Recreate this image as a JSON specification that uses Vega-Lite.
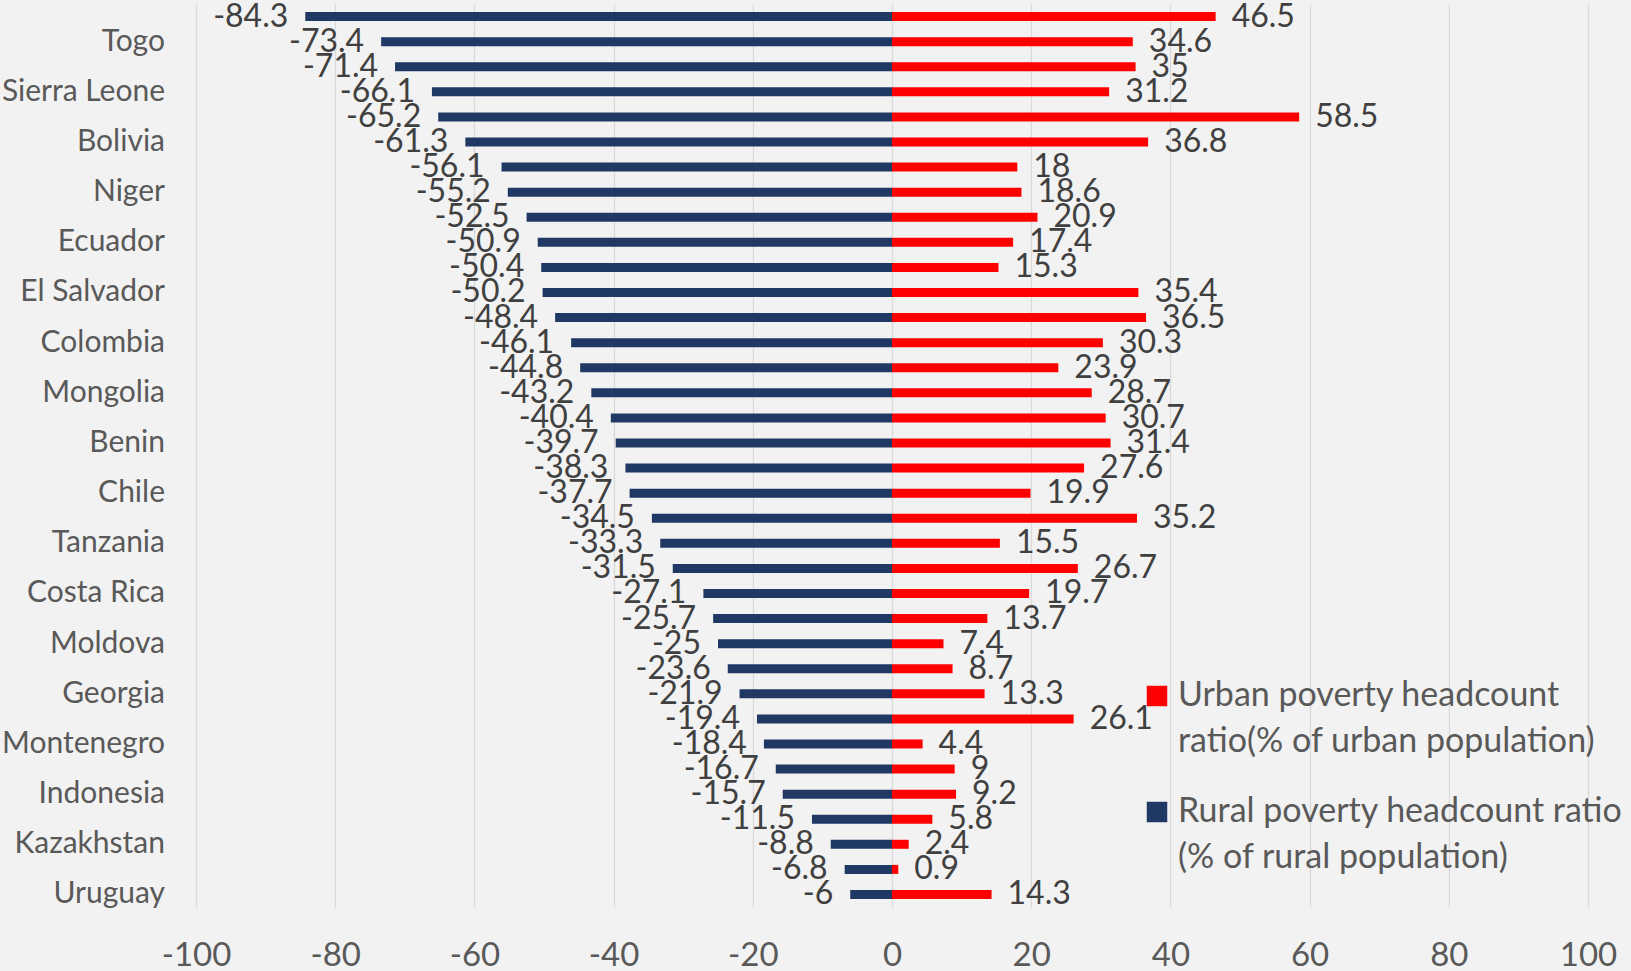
{
  "$schema": "https://vega.github.io/schema/vega-lite/v6.json",
  "width": 1392,
  "height": 903,
  "autosize": "none",
  "padding": {"left": 196, "top": 4, "right": 43, "bottom": 64},
  "background": "#f2f2f2",
  "config": {"view": {"stroke": null}, "font": "Lato"},
  "data": {
    "values": [
      {"row": 1, "country": "", "rural": -84.3, "urban": 46.5},
      {"row": 2, "country": "Togo", "rural": -73.4, "urban": 34.6},
      {"row": 3, "country": "", "rural": -71.4, "urban": 35},
      {"row": 4, "country": "Sierra Leone", "rural": -66.1, "urban": 31.2},
      {"row": 5, "country": "", "rural": -65.2, "urban": 58.5},
      {"row": 6, "country": "Bolivia", "rural": -61.3, "urban": 36.8},
      {"row": 7, "country": "", "rural": -56.1, "urban": 18},
      {"row": 8, "country": "Niger", "rural": -55.2, "urban": 18.6},
      {"row": 9, "country": "", "rural": -52.5, "urban": 20.9},
      {"row": 10, "country": "Ecuador", "rural": -50.9, "urban": 17.4},
      {"row": 11, "country": "", "rural": -50.4, "urban": 15.3},
      {"row": 12, "country": "El Salvador", "rural": -50.2, "urban": 35.4},
      {"row": 13, "country": "", "rural": -48.4, "urban": 36.5},
      {"row": 14, "country": "Colombia", "rural": -46.1, "urban": 30.3},
      {"row": 15, "country": "", "rural": -44.8, "urban": 23.9},
      {"row": 16, "country": "Mongolia", "rural": -43.2, "urban": 28.7},
      {"row": 17, "country": "", "rural": -40.4, "urban": 30.7},
      {"row": 18, "country": "Benin", "rural": -39.7, "urban": 31.4},
      {"row": 19, "country": "", "rural": -38.3, "urban": 27.6},
      {"row": 20, "country": "Chile", "rural": -37.7, "urban": 19.9},
      {"row": 21, "country": "", "rural": -34.5, "urban": 35.2},
      {"row": 22, "country": "Tanzania", "rural": -33.3, "urban": 15.5},
      {"row": 23, "country": "", "rural": -31.5, "urban": 26.7},
      {"row": 24, "country": "Costa Rica", "rural": -27.1, "urban": 19.7},
      {"row": 25, "country": "", "rural": -25.7, "urban": 13.7},
      {"row": 26, "country": "Moldova", "rural": -25, "urban": 7.4},
      {"row": 27, "country": "", "rural": -23.6, "urban": 8.7},
      {"row": 28, "country": "Georgia", "rural": -21.9, "urban": 13.3},
      {"row": 29, "country": "", "rural": -19.4, "urban": 26.1},
      {"row": 30, "country": "Montenegro", "rural": -18.4, "urban": 4.4},
      {"row": 31, "country": "", "rural": -16.7, "urban": 9},
      {"row": 32, "country": "Indonesia", "rural": -15.7, "urban": 9.2},
      {"row": 33, "country": "", "rural": -11.5, "urban": 5.8},
      {"row": 34, "country": "Kazakhstan", "rural": -8.8, "urban": 2.4},
      {"row": 35, "country": "", "rural": -6.8, "urban": 0.9},
      {"row": 36, "country": "Uruguay", "rural": -6, "urban": 14.3}
    ]
  },
  "encoding": {
    "y": {"field": "row", "type": "ordinal", "axis": null}
  },
  "layer": [
    {
      "transform": [{"fold": ["urban", "rural"], "as": ["series", "value"]}],
      "mark": {"type": "bar", "size": 9},
      "encoding": {
        "x": {
          "field": "value",
          "type": "quantitative",
          "title": null,
          "scale": {"domain": [-100, 100], "nice": false, "zero": false},
          "axis": {
            "values": [-100, -80, -60, -40, -20, 0, 20, 40, 60, 80, 100],
            "labelExpr": "'' + datum.value",
            "labelFlush": false,
            "grid": true,
            "gridColor": "#d9d9d9",
            "gridWidth": 1.3,
            "domain": false,
            "ticks": false,
            "labelFontSize": 33,
            "labelColor": "#595959",
            "labelPadding": 32
          }
        },
        "color": {
          "field": "series",
          "type": "nominal",
          "scale": {"domain": ["urban", "rural"], "range": ["#ff0000", "#203864"]},
          "legend": {
            "title": null,
            "orient": "none",
            "legendX": 944,
            "legendY": 675,
            "symbolType": "square",
            "symbolSize": 420,
            "symbolStrokeWidth": 0,
            "labelFontSize": 34,
            "labelColor": "#595959",
            "labelLimit": 1000,
            "labelOffset": 4,
            "rowPadding": 36,
            "labelExpr": "datum.value == 'urban' ? ['Urban poverty headcount', 'ratio(% of urban population)'] : ['Rural poverty headcount ratio', '(% of rural population)']",
            "encode": {"labels": {"update": {"lineHeight": {"value": 46}}}}
          }
        }
      }
    },
    {
      "mark": {"type": "text", "align": "right", "baseline": "middle", "dx": -17, "fontSize": 32, "color": "#404040"},
      "encoding": {
        "x": {"field": "rural", "type": "quantitative", "title": null},
        "text": {"field": "rural", "type": "nominal"}
      }
    },
    {
      "mark": {"type": "text", "align": "left", "baseline": "middle", "dx": 16, "fontSize": 32, "color": "#404040"},
      "encoding": {
        "x": {"field": "urban", "type": "quantitative", "title": null},
        "text": {"field": "urban", "type": "nominal"}
      }
    },
    {
      "mark": {"type": "text", "align": "right", "baseline": "middle", "dx": -31, "fontSize": 30, "color": "#595959"},
      "encoding": {
        "x": {"datum": -100},
        "text": {"field": "country", "type": "nominal"}
      }
    }
  ]
}
